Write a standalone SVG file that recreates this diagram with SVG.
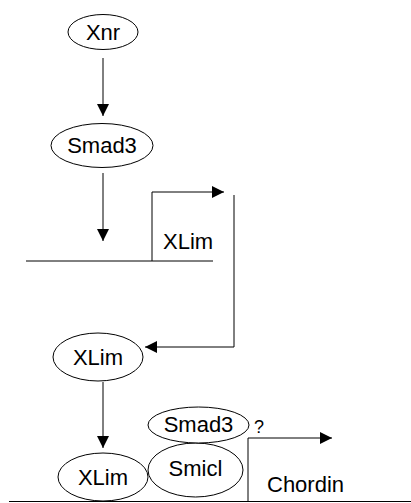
<svg xmlns="http://www.w3.org/2000/svg" width="411" height="503" viewBox="0 0 411 503">
  <defs>
    <marker id="head" viewBox="0 0 12 12" refX="12" refY="6" markerWidth="12" markerHeight="12" markerUnits="userSpaceOnUse" orient="auto">
      <path d="M0,0 L12,6 L0,12 Z" fill="#000"/>
    </marker>
    <style>
      .node ellipse { fill: #fff; stroke: #000; stroke-width: 1; }
      text { font-family: "Liberation Sans", Arial, sans-serif; font-size: 22px; fill: #000; }
      .node text { text-anchor: middle; }
      .edges path, .edges line { fill: none; stroke: #000; stroke-width: 1; }
      .arrow { marker-end: url(#head); }
    </style>
  </defs>
  <rect width="411" height="503" fill="#fff"/>

  <!-- connectors and gene/promoter lines -->
  <g class="edges">
    <line class="arrow" x1="103" y1="58" x2="103" y2="116"/>
    <line class="arrow" x1="103" y1="173" x2="103" y2="241"/>
    <!-- XLim gene with transcription start arrow -->
    <line x1="26" y1="261" x2="213" y2="261"/>
    <path class="arrow" d="M152,261 V192 H224"/>
    <!-- feedback from XLim gene to XLim protein -->
    <path class="arrow" d="M234,195 V347 H145"/>
    <line class="arrow" x1="103" y1="382" x2="103" y2="448"/>
    <!-- Chordin gene with transcription start arrow -->
    <line x1="9" y1="501.5" x2="411" y2="501.5"/>
    <path class="arrow" d="M248,502 V438 H332"/>
  </g>

  <g id="xnr" class="node">
    <ellipse cx="103" cy="32" rx="35" ry="17.5"/>
    <text x="103" y="40">Xnr</text>
  </g>
  <g id="smad3-top" class="node">
    <ellipse cx="102" cy="145.5" rx="51" ry="22"/>
    <text x="102" y="153">Smad3</text>
  </g>
  <g id="xlim-gene">
    <text x="163" y="249">XLim</text>
  </g>
  <g id="xlim-mid" class="node">
    <ellipse cx="98" cy="357" rx="45" ry="24"/>
    <text x="98" y="365">XLim</text>
  </g>
  <g id="xlim-bottom" class="node">
    <ellipse cx="103" cy="477" rx="45" ry="24"/>
    <text x="103" y="485">XLim</text>
  </g>
  <g id="smicl" class="node">
    <ellipse cx="195.5" cy="470" rx="47.5" ry="27"/>
    <text x="195.5" y="476">Smicl</text>
  </g>
  <g id="smad3-bottom" class="node">
    <ellipse cx="198.5" cy="425" rx="50.5" ry="18"/>
    <text x="198.5" y="432">Smad3</text>
  </g>
  <g id="question">
    <text x="254" y="433" style="font-size:18px">?</text>
  </g>
  <g id="chordin-gene">
    <text x="267" y="492">Chordin</text>
  </g>
</svg>
